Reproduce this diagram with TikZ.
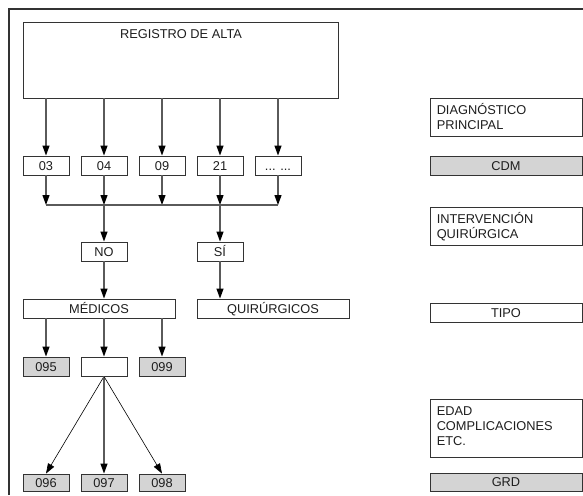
\documentclass[tikz,border=0pt]{standalone}
\usepackage{fontspec}
\setmainfont{Liberation Sans}
\usetikzlibrary{arrows.meta,positioning}
\definecolor{bordo}{HTML}{333333}
\definecolor{grigio}{HTML}{D4D4D4}
\definecolor{asta}{HTML}{5A5A5A}
\definecolor{scritta}{HTML}{1E1E1E}
\tikzset{
  casella/.style={draw=bordo, line width=0.9pt, fill=white, inner sep=0pt,
    minimum width=46pt, minimum height=19pt, text height=9.2pt, text depth=0pt,
    font=\fontsize{12.8}{15}\selectfont, text=scritta},
  grigia/.style={casella, fill=grigio},
  larga/.style={minimum width=152pt},
  testo/.style={inner sep=0pt, font=\fontsize{12.8}{15}\selectfont, text=scritta, align=left},
  freccia/.style={draw=asta, line width=1.2pt, -{Triangle[color=black, length=10pt, width=7pt]}},
  sottile/.style={draw=black, line width=0.6pt, -{Triangle[length=10pt, width=7pt]}},
}
\begin{document}
\begin{tikzpicture}[x=1pt, y=-1pt]
        \useasboundingbox (0,0) rectangle (583,495);
        % Cornice
        \draw[bordo, line width=1.4pt] (9,495) -- (9,9) -- (583,9);

        % Nodi
        \node[casella, minimum width=315pt, minimum height=76pt] (registro) at (180.5,60) {};
        \node[testo] (titolo) at (181,34) {REGISTRO DE ALTA};

        \node[casella] (n03) at (46,165.5) {03};
        \node[casella] (n04) at (104,165.5) {04};
        \node[casella] (n09) at (162,165.5) {09};
        \node[casella] (n21) at (220,165.5) {21};
        \node[casella] (altri) at (278,165.5) {... ...};
        \coordinate (bus) at (0,205);

        \node[casella] (no) at (104,251.5) {NO};
        \node[casella] (si) at (220,251.5) {SÍ};

        \node[casella, larga] (medici) at (99,308.5) {MÉDICOS};
        \node[casella, larga] (quir) at (273,308.5) {QUIRÚRGICOS};

        \node[grigia] (n095) at (46,366.5) {095};
        \node[casella] (vuoto) at (104,366.5) {};
        \node[grigia] (n099) at (162,366.5) {099};

        \node[grigia, minimum height=17pt] (n096) at (46,482.5) {096};
        \node[grigia, minimum height=17pt] (n097) at (104,482.5) {097};
        \node[grigia, minimum height=17pt] (n098) at (162,482.5) {098};

        % Colonna destra
        \node[casella, larga, minimum height=38pt] (diag) at (506,117) {};
        \node[testo, anchor=base west] (tdiag) at ([xshift=7pt, yshift=-32pt]diag.north west) {DIAGNÓSTICO\\PRINCIPAL};
        \node[grigia, larga] (cdm) at (506,165.5) {CDM};
        \node[casella, larga, minimum height=38pt] (interv) at (506,226) {};
        \node[testo, anchor=base west] (tinterv) at ([xshift=7pt, yshift=-32pt]interv.north west) {INTERVENCIÓN\\QUIRÚRGICA};
        \node[casella, larga] (tipo) at (506,312.5) {TIPO};
        \node[casella, larga, minimum height=58pt] (edad) at (506,428) {};
        \node[testo, anchor=base west] (tedad) at ([xshift=7pt, yshift=-47pt]edad.north west) {EDAD\\COMPLICACIONES\\ETC.};
        \node[grigia, larga, minimum height=18pt] (grd) at (506,482) {GRD};

        % Archi
        \draw[freccia] (registro.south -| n03) -- (n03.north);
        \draw[freccia] (registro.south -| n04) -- (n04.north);
        \draw[freccia] (registro.south -| n09) -- (n09.north);
        \draw[freccia] (registro.south -| n21) -- (n21.north);
        \draw[freccia] (registro.south -| altri) -- (altri.north);

        \draw[freccia] (n03) -- (n03 |- bus);
        \draw[freccia] (n04) -- (n04 |- bus);
        \draw[freccia] (n09) -- (n09 |- bus);
        \draw[freccia] (n21) -- (n21 |- bus);
        \draw[freccia] (altri) -- (altri |- bus);
        \draw[asta, line width=1.2pt] (n03 |- bus) -- (altri |- bus); % linea comune

        \draw[freccia] (n04 |- bus) -- (no);
        \draw[freccia] (n21 |- bus) -- (si);
        \draw[freccia] (no) -- (no |- medici.north);
        \draw[freccia] (si) -- (si |- quir.north);

        \draw[freccia] (medici.south -| n095) -- (n095);
        \draw[freccia] (medici.south -| vuoto) -- (vuoto);
        \draw[freccia] (medici.south -| n099) -- (n099);

        \draw[sottile] (vuoto.south) -- (n096.north);
        \draw[freccia] (vuoto) -- (n097);
        \draw[sottile] (vuoto.south) -- (n098.north);
\end{tikzpicture}
\end{document}
